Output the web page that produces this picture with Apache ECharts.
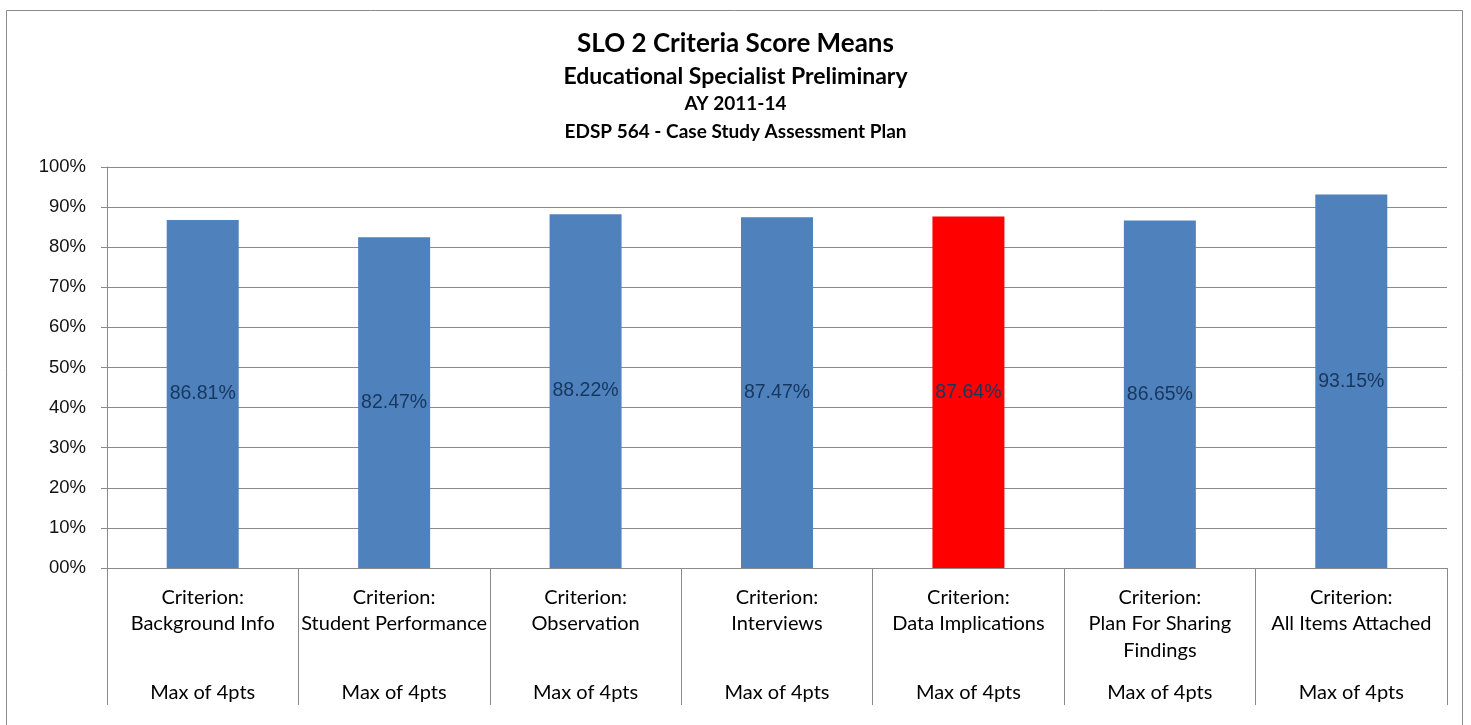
<!DOCTYPE html>
<html>
<head>
<meta charset="utf-8">
<script src="https://cdn.jsdelivr.net/npm/echarts@6/dist/echarts.min.js"></script>
<style>
  html, body { margin: 0; padding: 0; background: #fff; }
  #chart { width: 1471px; height: 725px; }
</style>
</head>
<body>
<div id="chart"></div>
<script>
// criteria names (second line of each category label)
const criteria = ['Background Info', 'Student Performance', 'Observation', 'Interviews',
  'Data Implications', 'Plan For Sharing\nFindings', 'All Items Attached'];
// mean scores, percent
const means = [86.81, 82.47, 88.22, 87.47, 87.64, 86.65, 93.15];
const highlighted = 'Data Implications';

const myChart = echarts.init(document.getElementById('chart'));
const font = 'Lato, "Open Sans", sans-serif';

const option = {
  backgroundColor: '#fff',
  animation: false,
  graphic: [{
    type: 'rect',
    shape: { x: 6.5, y: 10.5, width: 1456, height: 730 },
    style: { fill: 'none', stroke: '#8a8a8a', lineWidth: 1 },
    z: -1,
  }],
  title: [
    { text: 'SLO 2 Criteria Score Means', left: 'center', top: 26,
      textStyle: { fontFamily: font, fontSize: 26, fontWeight: 'bold', color: '#000' } },
    { text: 'Educational Specialist Preliminary', left: 'center', top: 60,
      textStyle: { fontFamily: font, fontSize: 23, fontWeight: 'bold', color: '#000' } },
    { text: 'AY 2011-14', left: 'center', top: 89,
      textStyle: { fontFamily: font, fontSize: 19, fontWeight: 'bold', color: '#000' } },
    { text: 'EDSP 564 - Case Study Assessment Plan', left: 'center', top: 117,
      textStyle: { fontFamily: font, fontSize: 19, fontWeight: 'bold', color: '#000' } },
  ],
  grid: { left: 107, right: 24, top: 167, bottom: 157, containLabel: false },
  xAxis: {
    type: 'category',
    data: criteria,
    axisLine: { show: true, lineStyle: { color: '#8a8a8a' } },
    axisTick: { show: true, interval: 0, length: 137, lineStyle: { color: '#8a8a8a' } },
    axisLabel: {
      interval: 0,
      margin: 16,
      formatter: (v) => {
        const parts = v.split('\n');
        const third = parts[1] ? parts[1] : ' ';
        return '{a|Criterion:}\n{a|' + parts[0] + '}\n{a|' + third + '}\n{b|Max of 4pts}';
      },
      rich: {
        a: { fontFamily: font, fontSize: 20, color: '#000', lineHeight: 26.5, align: 'center' },
        b: { fontFamily: font, fontSize: 20, color: '#000', lineHeight: 57.5, align: 'center' },
      },
    },
  },
  yAxis: {
    type: 'value',
    min: 0,
    max: 100,
    interval: 10,
    axisLine: { show: true, lineStyle: { color: '#8a8a8a' } },
    axisTick: { show: true, length: 6, lineStyle: { color: '#8a8a8a' } },
    splitLine: { show: true, lineStyle: { color: '#8a8a8a', width: 1 } },
    axisLabel: {
      margin: 21,
      fontFamily: '"Liberation Sans", Arial, sans-serif',
      fontSize: 18.5,
      color: '#111',
      formatter: (v) => (v < 10 ? '0' : '') + v + '%',
    },
  },
  series: [{
    type: 'bar',
    barWidth: 72,
    data: means.map((v, i) => ({
      value: v,
      itemStyle: { color: criteria[i] === highlighted ? '#ff0000' : '#4f81bd' },
    })),
    label: {
      show: true,
      position: 'inside',
      fontFamily: '"Liberation Sans", Arial, sans-serif',
      fontSize: 19.5,
      color: '#17375e',
      formatter: (p) => p.value.toFixed(2) + '%',
    },
  }],
};

myChart.setOption(option);
window.addEventListener('resize', () => myChart.resize());
</script>
</body>
</html>
